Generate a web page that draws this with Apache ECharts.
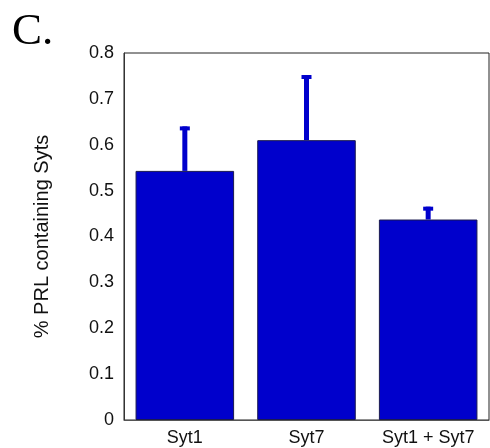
<!DOCTYPE html>
<html>
<head>
<meta charset="utf-8">
<script src="https://cdn.jsdelivr.net/npm/echarts@6/dist/echarts.min.js"></script>
<style>
  html, body { margin: 0; padding: 0; background: #fff; }
  #main { width: 490px; height: 448px; }
</style>
</head>
<body>
<div id="main"></div>
<script>
var categories = ['Syt1', 'Syt7', 'Syt1 + Syt7'];
var means = [0.543, 0.610, 0.437];
var errorTops = [0.640, 0.752, 0.465];

var BLUE = '#0000cc';
var FONT = 'Liberation Sans';

var chart = echarts.init(document.getElementById('main'));

// upper half of the error bar only: stem from bar top, small cap at the end
function renderError(params, api) {
  var i = api.value(0);
  var base = api.coord([i, api.value(1)]);
  var top = api.coord([i, api.value(2)]);
  return {
    type: 'group',
    children: [
      { type: 'rect', shape: { x: base[0] - 2.5, y: top[1], width: 5, height: base[1] - top[1] },
        style: { fill: BLUE } },
      { type: 'rect', shape: { x: base[0] - 5, y: top[1], width: 10, height: 4 },
        style: { fill: BLUE } }
    ]
  };
}

var option = {
  animation: false,
  grid: { left: 124, top: 53, right: 1, bottom: 28, show: true, borderColor: '#222', borderWidth: 1 },
  xAxis: {
    type: 'category',
    data: categories,
    axisLine: { lineStyle: { color: '#555' } },
    axisTick: { show: false },
    axisLabel: { color: '#111', fontFamily: FONT, fontSize: 18, margin: 9 }
  },
  yAxis: {
    type: 'value',
    min: 0,
    max: 0.8,
    interval: 0.1,
    name: '% PRL containing Syts',
    nameLocation: 'middle',
    nameGap: 72,
    nameRotate: 90,
    nameTextStyle: { color: '#111', fontFamily: FONT, fontSize: 20 },
    splitLine: { show: false },
    axisLine: { show: true, lineStyle: { color: '#333' } },
    axisTick: { show: false },
    axisLabel: { color: '#111', fontFamily: FONT, fontSize: 18, margin: 10,
      formatter: function (v) { return v === 0 ? '0' : v.toFixed(1); } }
  },
  series: [
    {
      type: 'bar',
      data: means,
      barCategoryGap: '19%',
      itemStyle: { color: BLUE, borderColor: '#1a1a50', borderWidth: 1 }
    },
    {
      type: 'custom',
      renderItem: renderError,
      data: means.map(function (m, i) { return [i, m, errorTops[i]]; }),
      encode: { x: 0, y: [1, 2] },
      z: 3
    }
  ],
  graphic: [
    { type: 'text', left: 12, top: 10,
      style: { text: 'C.', fontFamily: 'Liberation Serif', fontSize: 45, fill: '#000' } }
  ]
};

chart.setOption(option);
</script>
</body>
</html>
